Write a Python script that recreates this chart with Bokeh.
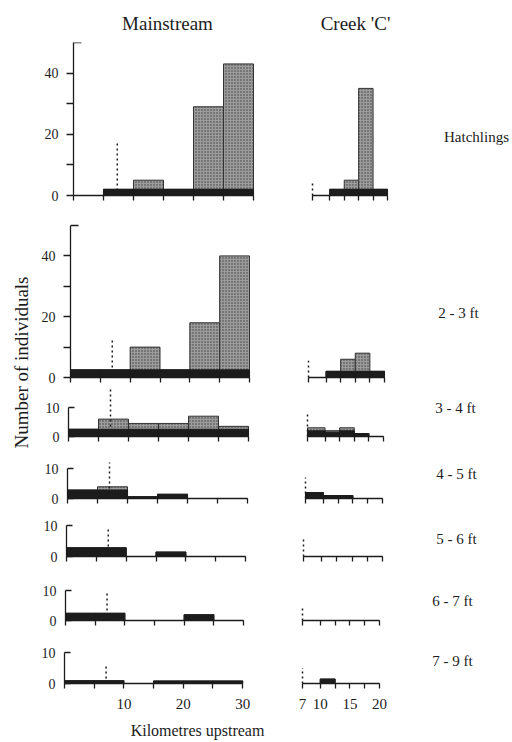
import math
from bokeh.plotting import figure
from bokeh.layouts import column, row
from bokeh.models import Range1d, FixedTicker, Label
from bokeh.embed import file_html
from bokeh.resources import INLINE

FONT = "Liberation Serif"
INK = "#1c1c1c"
BAR_GREY = "#9c9c9c"

# ---------------- data ----------------
size_classes = ["Hatchlings", "2 - 3 ft", "3 - 4 ft", "4 - 5 ft", "5 - 6 ft", "6 - 7 ft", "7 - 9 ft"]

main_edges = [0, 5, 10, 15, 20, 25, 30]           # km upstream, Mainstream
creek_edges = [7, 10, 12.5, 15, 17.5, 20]         # km upstream, Creek 'C'
main_labelled_ticks = [10, 20, 30]
main_plain_ticks = [0, 5, 15, 25]
creek_labelled_ticks = [7, 10, 15, 20]
creek_plain_ticks = [12.5, 17.5]

# number of individuals per reach (total bar height)
main_hatch = [0, 2, 5, 2, 29, 43]
main_2_3 = [2.5, 2.5, 10, 2.5, 18, 40]
main_3_4 = [2.5, 6, 4.5, 4.5, 7, 3.5]
main_4_5 = [2.8, 3.9, 0.6, 1.4, 0, 0]
main_5_6 = [2.8, 2.8, 0, 1.4, 0, 0]
main_6_7 = [2.4, 2.4, 0, 0, 1.9, 0]
main_7_9 = [0.9, 0.9, 0, 0.8, 0.8, 0.8]

creek_hatch = [0, 2, 5, 35, 2]
creek_2_3 = [0, 2, 6, 8, 2]
creek_3_4 = [3, 2, 3, 1, 0]
creek_4_5 = [2, 1, 1, 0, 0]
creek_5_6 = [0, 0, 0, 0, 0]
creek_6_7 = [0, 0, 0, 0, 0]
creek_7_9 = [0, 1.4, 0, 0, 0]

# solid black lower part of each bar
dark_main_hatch = [0, 2, 2, 2, 2, 2]
dark_main_2_3 = [2.5, 2.5, 2.5, 2.5, 2.5, 2.5]
dark_main_3_4 = [2.5, 2.5, 2.5, 2.5, 2.5, 2.5]
dark_main_4_5 = [2.8, 2.8, 0.6, 1.4, 0, 0]
dark_main_5_6 = [2.8, 2.8, 0, 1.4, 0, 0]
dark_main_6_7 = [2.4, 2.4, 0, 0, 1.9, 0]
dark_main_7_9 = [0.9, 0.9, 0, 0.8, 0.8, 0.8]

dark_creek_hatch = [0, 2, 2, 2, 2]
dark_creek_2_3 = [0, 2, 2, 2, 2]
dark_creek_3_4 = [2, 1.5, 2, 1, 0]
dark_creek_4_5 = [2, 1, 1, 0, 0]
dark_creek_5_6 = [0, 0, 0, 0, 0]
dark_creek_6_7 = [0, 0, 0, 0, 0]
dark_creek_7_9 = [0, 1.4, 0, 0, 0]

# dotted marker lines (position km, height)
mark_main_km = [7.3, 7, 7, 7, 7, 7, 7]
mark_main_h = [18, 13, 17, 12, 9.5, 9.5, 6]
mark_creek_km = [7, 7, 7, 7, 7, 7, 7]
mark_creek_h = [4, 5.5, 8, 7, 6, 5, 5]

main_vals = [main_hatch, main_2_3, main_3_4, main_4_5, main_5_6, main_6_7, main_7_9]
main_dark = [dark_main_hatch, dark_main_2_3, dark_main_3_4, dark_main_4_5,
             dark_main_5_6, dark_main_6_7, dark_main_7_9]
creek_vals = [creek_hatch, creek_2_3, creek_3_4, creek_4_5, creek_5_6, creek_6_7, creek_7_9]
creek_dark = [dark_creek_hatch, dark_creek_2_3, dark_creek_3_4, dark_creek_4_5,
              dark_creek_5_6, dark_creek_6_7, dark_creek_7_9]

# ---------------- layout (page pixels) ----------------
PAGE_W, PAGE_H = 512, 742
HEAD_H = 42
FOOT_TOP = 716
LEFT_W = 38
MAIN_R = 276
CREEK_R = 410

ROW_TOP = [42, 205, 386, 446, 507, 566, 629]
ROW_BOT = [205, 386, 446, 507, 566, 629, 716]
AXIS_TOP_PX = [42, 225, 407, 468, 525, 590, 652]
BASE_PX = [195, 377, 436, 498, 556, 620, 683]
AXIS_MAX = [50, 50, 10, 10, 10, 10, 10]
MAIN_X0 = [73, 70, 68, 67, 66, 65, 63]
MAIN_X30 = [253, 249, 248, 247, 245, 243, 242]
CREEK_X7 = [312, 308, 307, 305, 303, 302, 302]
CREEK_X20 = [387, 384, 383, 382, 382, 379, 379]
LABEL_X = [476, 458, 455, 456, 456, 452, 452]
LABEL_Y = [136, 312, 407, 473, 538, 600, 660]
BRACKET_PX = 8


def style_common(p):
    p.xgrid.visible = False
    p.ygrid.visible = False
    p.outline_line_color = None
    p.background_fill_color = "white"
    p.border_fill_color = "white"


def style_xaxis(ax, labelled, plain, bounds, last):
    ax.bounds = bounds
    if last:
        ax.ticker = FixedTicker(ticks=labelled, minor_ticks=plain)
    else:
        ax.ticker = FixedTicker(ticks=[], minor_ticks=sorted(labelled + plain))
    ax.axis_line_color = INK
    ax.axis_line_width = 1.3
    for kind in ("major", "minor"):
        setattr(ax, kind + "_tick_line_color", INK)
        setattr(ax, kind + "_tick_line_width", 1.3)
        setattr(ax, kind + "_tick_out", 5)
        setattr(ax, kind + "_tick_in", 0)
    ax.major_label_text_font = FONT
    ax.major_label_text_font_size = "15px"
    ax.major_label_text_color = INK
    ax.major_label_standoff = 10


def blank(width, height, xr, yr):
    p = figure(width=width, height=height, x_range=Range1d(*xr), y_range=Range1d(*yr),
               output_backend="svg", toolbar_location=None,
               x_axis_location=None, y_axis_location=None, min_border=0)
    style_common(p)
    return p


def draw_bars(p, edges, vals, dark):
    p.quad(left=edges[:-1], right=edges[1:], bottom=0, top=vals,
           fill_color=BAR_GREY, line_color="#333333", line_width=1.0,
           hatch_pattern="dot", hatch_color="#3a3a3a", hatch_scale=3.0, hatch_weight=1.0)
    p.quad(left=edges[:-1], right=edges[1:], bottom=0, top=dark,
           fill_color=INK, line_color=INK, line_width=1.1)


def make_main(i):
    top, bot = ROW_TOP[i], ROW_BOT[i]
    sy = (BASE_PX[i] - AXIS_TOP_PX[i]) / AXIS_MAX[i]
    y_end = (BASE_PX[i] - top) / sy
    sx = (MAIN_X30[i] - MAIN_X0[i]) / 30.0
    x_end = 30 + (MAIN_R - MAIN_X30[i]) / sx
    p = figure(width=MAIN_R - LEFT_W, height=bot - top,
               x_range=Range1d(0, x_end), y_range=Range1d(0, y_end),
               output_backend="svg", toolbar_location=None, min_border=0)
    p.min_border_left = MAIN_X0[i] - LEFT_W
    p.min_border_right = 0
    p.min_border_top = 0
    p.min_border_bottom = bot - BASE_PX[i]
    style_common(p)

    last = i == len(size_classes) - 1
    style_xaxis(p.xaxis[0], main_labelled_ticks, main_plain_ticks, (0, 30), last)

    ya = p.yaxis[0]
    ya.bounds = (0, AXIS_MAX[i])
    ya.axis_line_color = INK
    ya.axis_line_width = 1.3
    ya.major_tick_line_color = INK
    ya.major_tick_line_width = 1.3
    ya.minor_tick_line_color = INK
    ya.minor_tick_line_width = 1.3
    ya.major_label_text_font = FONT
    ya.major_label_text_font_size = "14px"
    ya.major_label_text_color = INK
    if AXIS_MAX[i] == 50:
        ya.ticker = FixedTicker(ticks=[0, 20, 40], minor_ticks=[10, 30])
        ya.major_tick_out = 7
        ya.major_tick_in = 0
        ya.minor_tick_out = 7
        ya.minor_tick_in = 0
        ya.major_label_standoff = 8
        # short inward bracket closing the top of the axis
        p.segment(x0=[0], y0=[AXIS_MAX[i]], x1=[BRACKET_PX / sx], y1=[AXIS_MAX[i]],
                  line_color=INK, line_width=1.3)
    else:
        ya.ticker = FixedTicker(ticks=[0, 10])
        ya.major_tick_out = 0
        ya.major_tick_in = 6
        ya.minor_tick_out = 0
        ya.minor_tick_in = 0
        ya.major_label_standoff = 9

    draw_bars(p, main_edges, main_vals[i], main_dark[i])
    p.segment(x0=[mark_main_km[i]], y0=[0], x1=[mark_main_km[i]], y1=[mark_main_h[i]],
              line_color=INK, line_width=1.5, line_dash="2 3")
    return p


def make_creek(i):
    top, bot = ROW_TOP[i], ROW_BOT[i]
    sy = (BASE_PX[i] - AXIS_TOP_PX[i]) / AXIS_MAX[i]
    y_end = (BASE_PX[i] - top) / sy
    cx = (CREEK_X20[i] - CREEK_X7[i]) / 13.0
    x_start = 7 - (CREEK_X7[i] - MAIN_R) / cx
    x_end = 20 + (CREEK_R - CREEK_X20[i]) / cx
    p = figure(width=CREEK_R - MAIN_R, height=bot - top,
               x_range=Range1d(x_start, x_end), y_range=Range1d(0, y_end),
               output_backend="svg", toolbar_location=None, min_border=0,
               y_axis_location=None)
    p.min_border_left = 0
    p.min_border_right = 0
    p.min_border_top = 0
    p.min_border_bottom = bot - BASE_PX[i]
    style_common(p)
    last = i == len(size_classes) - 1
    style_xaxis(p.xaxis[0], creek_labelled_ticks, creek_plain_ticks, (7, 20), last)

    draw_bars(p, creek_edges, creek_vals[i], creek_dark[i])
    p.segment(x0=[mark_creek_km[i]], y0=[0], x1=[mark_creek_km[i]], y1=[mark_creek_h[i]],
              line_color=INK, line_width=1.5, line_dash="2 3")
    return p


# header with panel titles
header = blank(PAGE_W, HEAD_H, (0, PAGE_W), (HEAD_H, 0))
for txt, x in (("Mainstream", 167), ("Creek 'C'", 355)):
    header.add_layout(Label(x=x, y=23, text=txt, text_font=FONT, text_font_size="19px",
                            text_color=INK, text_align="center", text_baseline="middle"))

# left strip with y-axis title
left = blank(LEFT_W, FOOT_TOP - HEAD_H, (0, LEFT_W), (FOOT_TOP, HEAD_H))
left.add_layout(Label(x=21, y=362, text="Number of individuals", angle=math.pi / 2,
                      text_font=FONT, text_font_size="19px", text_color=INK,
                      text_align="center", text_baseline="middle"))

# right strip with size-class labels
right = blank(PAGE_W - CREEK_R, FOOT_TOP - HEAD_H, (CREEK_R, PAGE_W), (FOOT_TOP, HEAD_H))
for i, name in enumerate(size_classes):
    right.add_layout(Label(x=LABEL_X[i], y=LABEL_Y[i], text=name, text_font=FONT,
                           text_font_size="15px", text_color=INK,
                           text_align="center", text_baseline="middle"))

# footer with x-axis title
footer = blank(PAGE_W, PAGE_H - FOOT_TOP, (0, PAGE_W), (PAGE_H, FOOT_TOP))
footer.add_layout(Label(x=197, y=730, text="Kilometres upstream", text_font=FONT,
                        text_font_size="16px", text_color=INK,
                        text_align="center", text_baseline="middle"))

panel_rows = [row(make_main(i), make_creek(i)) for i in range(len(size_classes))]
layout = column(header, row(left, column(*panel_rows), right), footer)

open("out.html", "w").write(file_html(layout, INLINE))
